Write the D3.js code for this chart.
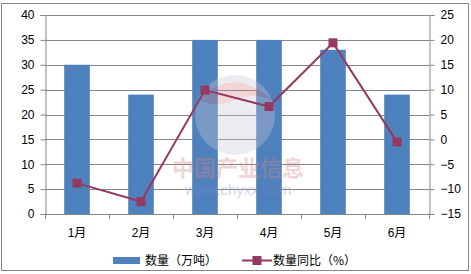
<!DOCTYPE html>
<html>
<head>
<meta charset="utf-8">
<script src="https://cdn.jsdelivr.net/npm/d3@7"></script>
<style>
body { margin: 0; background: #fff; }
svg { display: block; }
</style>
</head>
<body>
<div id="chart"></div>
<script>
// data
var months = ["1月", "2月", "3月", "4月", "5月", "6月"];
var amount = [30, 24, 35, 35, 33, 24];          // 数量（万吨）
var yoy = [-8.8, -12.5, 9.9, 6.6, 19.4, -0.5];   // 数量同比（%）
var leftTicks = [0, 5, 10, 15, 20, 25, 30, 35, 40];
var rightTicks = [-15, -10, -5, 0, 5, 10, 15, 20, 25];

var width = 471, height = 274;
var plotL = 45, plotR = 429, plotT = 15, plotB = 214;
var barColor = "#4F81BD", lineColor = "#953962", axisColor = "#868686";

var svg = d3.select("#chart").append("svg")
  .attr("width", width).attr("height", height)
  .style("font-family", "Arial, 'Liberation Sans', 'Noto Sans CJK SC', sans-serif");

// outer border
svg.append("rect").attr("x", 1.5).attr("y", 3.5).attr("width", 467).attr("height", 267)
  .attr("fill", "#fff").attr("stroke", axisColor).attr("stroke-width", 1);

var x = d3.scaleBand().domain(months).range([plotL, plotR]).paddingInner(0.6).paddingOuter(0.3);
var xc = d3.scaleBand().domain(months).range([plotL, plotR]);
var yL = d3.scaleLinear().domain([0, 40]).range([plotB, plotT]);
var yR = d3.scaleLinear().domain([-15, 25]).range([plotB, plotT]);

// gridlines
svg.append("g").selectAll("line").data(leftTicks.slice(1)).enter().append("line")
  .attr("x1", plotL).attr("x2", plotR)
  .attr("y1", function(d) { return Math.round(yL(d)) + 0.5; })
  .attr("y2", function(d) { return Math.round(yL(d)) + 0.5; })
  .attr("stroke", axisColor).attr("stroke-width", 1);

// bars
svg.append("g").selectAll("rect").data(amount).enter().append("rect")
  .attr("x", function(d, i) { return x(months[i]); })
  .attr("width", x.bandwidth())
  .attr("y", function(d) { return yL(d); })
  .attr("height", function(d) { return plotB - yL(d); })
  .attr("fill", barColor);

// watermark
var wm = svg.append("g").attr("opacity", 0.35);
wm.append("circle").attr("cx", 235).attr("cy", 115).attr("r", 40).attr("fill", "#c9c9d6");
wm.append("path").attr("d", "M198,100 Q235,65 272,100 Q255,92 235,100 Q215,108 198,100Z").attr("fill", "#d88a90");
wm.append("text").attr("x", 238).attr("y", 176).attr("text-anchor", "middle")
  .attr("font-size", 22).attr("font-weight", "bold").attr("fill", "#d9868c")
  .style("font-family", "'Noto Sans CJK SC', sans-serif").text("中国产业信息");
wm.append("text").attr("x", 238).attr("y", 195).attr("text-anchor", "middle")
  .attr("font-size", 15).attr("fill", "#7a8cc8").text("www.chyxx.com");

// axes
var axisL = svg.append("g").attr("transform", "translate(" + (plotL + 0.5) + ",0)")
  .call(d3.axisLeft(yL).tickValues(leftTicks).tickSize(5).tickPadding(6));
var axisR = svg.append("g").attr("transform", "translate(" + (plotR + 0.5) + ",0)")
  .call(d3.axisRight(yR).tickValues(rightTicks).tickSize(5).tickPadding(6)
    .tickFormat(function(d) { return d < 0 ? "\u2212" + Math.abs(d) : d; }));
var axisB = svg.append("g").attr("transform", "translate(0," + (plotB + 0.5) + ")")
  .call(d3.axisBottom(xc).tickSize(0).tickPadding(14));

// category tick marks between groups
svg.append("g").selectAll("line").data(d3.range(7)).enter().append("line")
  .attr("x1", function(d) { return Math.round(plotL + d * xc.step()) + 0.5; })
  .attr("x2", function(d) { return Math.round(plotL + d * xc.step()) + 0.5; })
  .attr("y1", plotB).attr("y2", plotB + 5)
  .attr("stroke", axisColor);

[axisL, axisR, axisB].forEach(function(a) {
  a.selectAll(".domain").attr("stroke", axisColor);
  a.selectAll(".tick line").attr("stroke", axisColor);
  a.selectAll("text").attr("fill", "#000").attr("font-size", 12)
    .style("font-family", "Arial, 'Liberation Sans', 'Noto Sans CJK SC', sans-serif");
});
axisB.select(".domain").attr("d", "M" + plotL + ",0H" + plotR);

// line series
var line = d3.line()
  .x(function(d, i) { return xc(months[i]) + xc.bandwidth() / 2; })
  .y(function(d) { return yR(d); });
svg.append("path").datum(yoy).attr("d", line)
  .attr("fill", "none").attr("stroke", lineColor).attr("stroke-width", 2);
svg.append("g").selectAll("rect").data(yoy).enter().append("rect")
  .attr("x", function(d, i) { return xc(months[i]) + xc.bandwidth() / 2 - 4.5; })
  .attr("y", function(d) { return yR(d) - 4.5; })
  .attr("width", 9).attr("height", 9)
  .attr("fill", lineColor);

// legend
var lg = svg.append("g").style("font-family", "'Noto Sans CJK SC', sans-serif").attr("font-size", 12);
lg.append("rect").attr("x", 113).attr("y", 257).attr("width", 27).attr("height", 7).attr("fill", barColor);
lg.append("text").attr("x", 145).attr("y", 265).text("数量（万吨）");
lg.append("line").attr("x1", 242).attr("x2", 272).attr("y1", 260.5).attr("y2", 260.5)
  .attr("stroke", lineColor).attr("stroke-width", 2);
lg.append("rect").attr("x", 252.5).attr("y", 256).attr("width", 9).attr("height", 9).attr("fill", lineColor);
lg.append("text").attr("x", 273).attr("y", 265).text("数量同比（%）");
</script>
</body>
</html>
